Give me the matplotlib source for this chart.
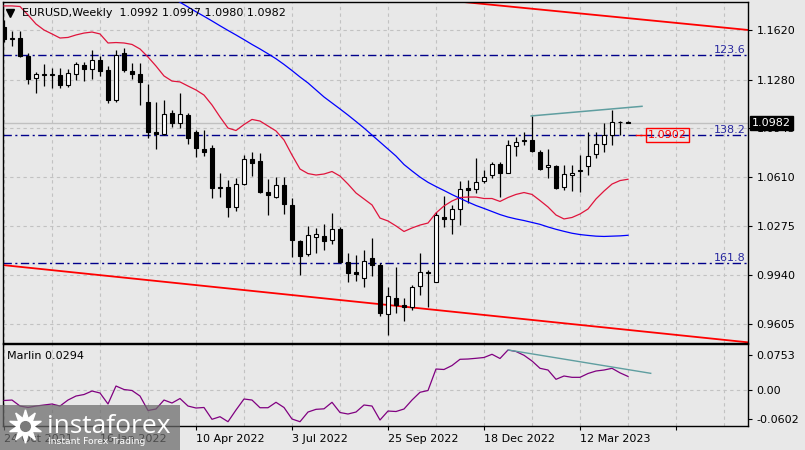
import numpy as np
import pandas as pd
import matplotlib
matplotlib.use("Agg")
import matplotlib.pyplot as plt
from matplotlib import transforms as mtransforms
from matplotlib.patches import Rectangle
from matplotlib.lines import Line2D

# ---------------- data ----------------
symbol = "EURUSD,Weekly"
header_values = ["1.0992", "1.0997", "1.0980", "1.0982"]
start_week = "2021-10-24"

opens = [1.1643, 1.1560, 1.1567, 1.1440, 1.1290, 1.1312, 1.1312, 1.1312, 1.1240, 1.1316,
         1.1380, 1.1351, 1.1414, 1.1346, 1.1140, 1.1460, 1.1339, 1.1318, 1.1124, 1.0918,
         1.0909, 1.1049, 1.0981, 1.1037, 1.0920, 1.0804, 1.0813, 1.0539, 1.0546, 1.0405,
         1.0562, 1.0734, 1.0722, 1.0512, 1.0473, 1.0557, 1.0421, 1.0174, 1.0082, 1.0203,
         1.0208, 1.0181, 1.0254, 1.0032, 0.9964, 0.9918, 1.0055, 1.0009, 0.9671, 0.9781,
         0.9735, 0.9719, 0.9868, 0.9955, 0.9895, 1.0337, 1.0323, 1.0392, 1.0537, 1.0530,
         1.0583, 1.0624, 1.0702, 1.0638, 1.0827, 1.0860, 1.0866, 1.0786, 1.0679, 1.0688,
         1.0542, 1.0624, 1.0657, 1.0688, 1.0768, 1.0837, 1.0900, 1.0990, 1.0992]
highs = [1.1690, 1.1616, 1.1613, 1.1464, 1.1334, 1.1385, 1.1357, 1.1362, 1.1350, 1.1403,
         1.1400, 1.1483, 1.1441, 1.1370, 1.1483, 1.1494, 1.1392, 1.1392, 1.1248, 1.1124,
         1.1140, 1.1072, 1.1186, 1.1049, 1.0935, 1.0935, 1.0830, 1.0637, 1.0592, 1.0603,
         1.0763, 1.0786, 1.0775, 1.0599, 1.0610, 1.0614, 1.0466, 1.0181, 1.0279, 1.0261,
         1.0290, 1.0363, 1.0270, 1.0089, 1.0078, 1.0112, 1.0197, 1.0021, 0.9861, 0.9996,
         0.9781, 0.9872, 1.0094, 0.9975, 1.0375, 1.0484, 1.0421, 1.0587, 1.0592, 1.0741,
         1.0660, 1.0718, 1.0718, 1.0866, 1.0889, 1.0923, 1.1029, 1.0798, 1.0802, 1.0695,
         1.0695, 1.0695, 1.0763, 1.0923, 1.0923, 1.0981, 1.1072, 1.0998, 1.0997]
lows = [1.1535, 1.1513, 1.1432, 1.1250, 1.1185, 1.1236, 1.1225, 1.1220, 1.1226, 1.1275,
        1.1270, 1.1284, 1.1303, 1.1118, 1.1125, 1.1330, 1.1282, 1.1106, 1.0882, 1.0804,
        1.0900, 1.0957, 1.0946, 1.0839, 1.0752, 1.0756, 1.0466, 1.0478, 1.0340, 1.0382,
        1.0557, 1.0620, 1.0501, 1.0352, 1.0466, 1.0359, 1.0066, 0.9941, 1.0071, 1.0089,
        1.0112, 1.0153, 1.0022, 0.9895, 0.9902, 0.9861, 0.9934, 0.9660, 0.9530, 0.9682,
        0.9628, 0.9701, 0.9804, 0.9724, 0.9895, 1.0268, 1.0222, 1.0283, 1.0432, 1.0501,
        1.0569, 1.0604, 1.0478, 1.0638, 1.0756, 1.0832, 1.0786, 1.0660, 1.0608, 1.0529,
        1.0523, 1.0516, 1.0512, 1.0626, 1.0741, 1.0786, 1.0832, 1.0900, 1.0980]
closes = [1.1555, 1.1567, 1.1440, 1.1284, 1.1316, 1.1320, 1.1320, 1.1240, 1.1323, 1.1385,
          1.1355, 1.1414, 1.1341, 1.1140, 1.1449, 1.1346, 1.1318, 1.1266, 1.0923, 1.0910,
          1.1046, 1.0981, 1.1044, 1.0878, 1.0809, 1.0786, 1.0539, 1.0546, 1.0409, 1.0562,
          1.0734, 1.0711, 1.0512, 1.0489, 1.0557, 1.0425, 1.0181, 1.0073, 1.0215, 1.0222,
          1.0176, 1.0254, 1.0032, 0.9957, 0.9950, 1.0039, 1.0009, 0.9682, 0.9799, 0.9735,
          0.9719, 0.9857, 0.9959, 0.9960, 1.0353, 1.0323, 1.0392, 1.0528, 1.0523, 1.0580,
          1.0610, 1.0702, 1.0642, 1.0832, 1.0850, 1.0866, 1.0791, 1.0667, 1.0693, 1.0535,
          1.0631, 1.0637, 1.0662, 1.0758, 1.0838, 1.0900, 1.0987, 1.0992, 1.0982]

ma_red = [1.1785, 1.1785, 1.1781, 1.1723, 1.1661, 1.1620, 1.1593, 1.1565, 1.1569, 1.1586,
          1.1599, 1.1606, 1.1593, 1.1531, 1.1534, 1.1531, 1.1521, 1.1490, 1.1435, 1.1373,
          1.1305, 1.1270, 1.1264, 1.1236, 1.1209, 1.1174, 1.1106, 1.1024, 1.0948, 1.0931,
          1.0972, 1.1007, 1.0996, 1.0962, 1.0928, 1.0866, 1.0763, 1.0667, 1.0636, 1.0626,
          1.0633, 1.0650, 1.0619, 1.0564, 1.0503, 1.0462, 1.0421, 1.0331, 1.0311, 1.0277,
          1.0239, 1.0263, 1.0283, 1.0297, 1.0366, 1.0414, 1.0448, 1.0472, 1.0475, 1.0475,
          1.0465, 1.0465, 1.0445, 1.0472, 1.0493, 1.0506, 1.0493, 1.0451, 1.0407, 1.0352,
          1.0325, 1.0335, 1.0359, 1.0393, 1.0462, 1.0516, 1.0564, 1.0588, 1.0597]

ma_blue = [np.nan] * 20 + [
    1.1880, 1.1846, 1.1810, 1.1778, 1.1745, 1.1714, 1.1682, 1.1649, 1.1617, 1.1586,
    1.1554, 1.1521, 1.1490, 1.1457, 1.1423, 1.1384, 1.1342, 1.1298, 1.1257, 1.1209,
    1.1161, 1.1120, 1.1079, 1.1037, 1.0993, 1.0948, 1.0900, 1.0852, 1.0804, 1.0756,
    1.0698, 1.0654, 1.0612, 1.0576, 1.0547, 1.0520, 1.0492, 1.0466, 1.0441, 1.0417,
    1.0397, 1.0376, 1.0355, 1.0338, 1.0325, 1.0314, 1.0301, 1.0288, 1.0270, 1.0254,
    1.0240, 1.0227, 1.0218, 1.0212, 1.0207, 1.0205, 1.0207, 1.0209, 1.0213]

marlin = [-0.0216, -0.0206, -0.0333, -0.0364, -0.0333, -0.0311, -0.0290, -0.0333, -0.0206, -0.0121,
          -0.0089, -0.0015, -0.0057, -0.0290, 0.0091, 0.0017, -0.0004, -0.0121, -0.0428, -0.0396,
          -0.0206, -0.0269, -0.0174, -0.0333, -0.0375, -0.0364, -0.0614, -0.0559, -0.0665, -0.0417,
          -0.0184, -0.0206, -0.0369, -0.0369, -0.0254, -0.0364, -0.0608, -0.0665, -0.0460, -0.0403,
          -0.0392, -0.0254, -0.0470, -0.0502, -0.0460, -0.0311, -0.0333, -0.0629, -0.0439, -0.0449,
          -0.0396, -0.0206, -0.0042, -0.0004, 0.0451, 0.0441, 0.0525, 0.0657, 0.0663, 0.0678,
          0.0695, 0.0763, 0.0674, 0.0854, 0.0822, 0.0742, 0.0621, 0.0466, 0.0430, 0.0233,
          0.0303, 0.0275, 0.0275, 0.0356, 0.0409, 0.0430, 0.0466, 0.0370, 0.0294]
marlin_name = "Marlin"

fib_levels = [1.1447, 1.0903, 1.0021]
fib_labels = ["123.6", "138.2", "161.8"]

channel_upper_idx = [50.0, 93.04]
channel_upper_px = [1.1852, 1.1620]
channel_lower_idx = [-0.16, 93.04]
channel_lower_px = [1.0009, 0.9479]
teal_idx = [65.9, 79.75]
teal_px = [1.1031, 1.1097]
marlin_teal_idx = [63.04, 80.84]
marlin_teal_val = [0.0854, 0.0360]

price_ticks = [1.1620, 1.1280, 1.0945, 1.0610, 1.0275, 0.9940, 0.9605]
marlin_ticks = [0.0753, 0.00, -0.0602]
marlin_tick_labels = ["0.0753", "0.00", "-0.0602"]
current_price = 1.0982
marked_price = 1.0902
marked_idx = [79.0, 80.25]

# ---------------- figure ----------------
W, H = 805, 450
BG = "#E8E8E8"
plt.rcParams["font.family"] = ["DejaVu Sans"]
fig = plt.figure(figsize=(W / 100, H / 100), dpi=100, facecolor=BG)


def rect(x0, y0, x1, y1):
    return [x0 / W, 1 - y1 / H, (x1 - x0) / W, (y1 - y0) / H]


ax = fig.add_axes(rect(3, 2, 748, 343))
ax2 = fig.add_axes(rect(3, 344, 748, 426), sharex=ax)

n = len(closes)
idx = np.arange(n)
dates = pd.date_range(start_week, periods=n, freq="7D")
o, h, l, c = (np.array(v) for v in (opens, highs, lows, closes))

grid_kw = dict(color="#C2C2C2", linestyle=(0, (3, 3)), linewidth=0.8)

for a in (ax, ax2):
    a.set_facecolor(BG)
    for s in a.spines.values():
        s.set_color("black")
        s.set_linewidth(1)
    a.yaxis.tick_right()
    a.tick_params(axis="y", direction="out", length=3, width=0.8, pad=3,
                  labelsize=8, colors="black")

ax.set_xlim(-0.125, 93.0)
ax.set_ylim(0.94747, 1.18119)
ax2.set_ylim(-0.0756, 0.0981)

# x ticks: minor every 6 bars (grid), major every 12 bars (labels)
major = np.arange(0, 93, 12)
minor = np.arange(0, 93, 6)
ax2.set_xticks(major)
ax2.set_xticks(minor, minor=True)
labels = []
for m in major:
    if m < n:
        d = dates[m]
        labels.append(f"{d.day} {d.strftime('%b %Y')}")
    else:
        labels.append("")
ax2.set_xticklabels(labels)
for lbl in ax2.get_xticklabels():
    lbl.set_ha("left")
ax2.tick_params(axis="x", which="major", length=3, width=0.8, pad=3, labelsize=8)
ax2.tick_params(axis="x", which="minor", length=0)
ax.tick_params(axis="x", which="both", length=0, labelbottom=False)

ax.set_yticks(price_ticks)
ax.set_yticklabels([f"{p:.4f}" for p in price_ticks])
ax2.set_yticks(marlin_ticks)
ax2.set_yticklabels(marlin_tick_labels)

ax.grid(axis="y", which="major", **grid_kw)
ax.grid(axis="x", which="both", **grid_kw)
ax2.grid(axis="x", which="both", **grid_kw)
ax2.axhline(0, zorder=1, **grid_kw)
ax.set_axisbelow(True)
ax2.set_axisbelow(True)

# levels
ax.axhline(current_price, color="#C0C0C0", lw=1, zorder=1)
for lev, lab in zip(fib_levels, fib_labels):
    ax.axhline(lev, color="#00008B", lw=1, ls=(0, (6, 2.5, 1.5, 2.5)), zorder=1.5)
    ax.text(0.997, lev, lab, transform=mtransforms.blended_transform_factory(ax.transAxes, ax.transData),
            ha="right", va="bottom", fontsize=8, color="#2828A0", zorder=2)

# channel and trend lines
ax.plot(channel_upper_idx, channel_upper_px, color="#FF0000", lw=1.3, zorder=2)
ax.plot(channel_lower_idx, channel_lower_px, color="#FF0000", lw=1.3, zorder=2)

# candles
up = c >= o
ax.vlines(idx, l, h, color="black", lw=0.9, zorder=3)
bot = np.minimum(o, c)
hgt = np.abs(c - o)
ax.bar(idx[up], hgt[up], bottom=bot[up], width=0.62, facecolor="white",
       edgecolor="black", linewidth=0.8, zorder=4)
ax.bar(idx[~up], hgt[~up], bottom=bot[~up], width=0.62, facecolor="black",
       edgecolor="black", linewidth=0.8, zorder=4)

# moving averages
ax.plot(idx, ma_red, color="#E0143C", lw=0.9, zorder=5)
ax.plot(idx, ma_blue, color="#0000FF", lw=0.9, zorder=5)
ax.plot(teal_idx, teal_px, color="#5F9EA0", lw=1.1, zorder=5)

# marked price label
ax.plot(marked_idx, [marked_price] * 2, color="#FF0000", lw=1, zorder=5)
ax.text(marked_idx[1] + 0.27, marked_price, f"{marked_price:.4f}", color="#FF0000",
        fontsize=8, ha="left", va="center", zorder=6,
        bbox=dict(boxstyle="square,pad=0.2", fc="none", ec="#FF0000", lw=1))

# current price box on axis
trans_bt = mtransforms.blended_transform_factory(ax.transAxes, ax.transData)
trans_bt = mtransforms.offset_copy(trans_bt, fig=fig, x=4, y=0, units="dots")
ax.text(1.0, current_price, f"{current_price:.4f}", transform=trans_bt, color="white",
        fontsize=8, ha="left", va="center", zorder=10, clip_on=False,
        bbox=dict(boxstyle="square,pad=0.18", fc="black", ec="black"))

# header
ax.plot([0.0093], [1 - 10.5 / 341], marker="v", ms=5.5, color="black",
        transform=ax.transAxes, clip_on=False, zorder=10)
ax.text(19 / 745, 1 - 10.5 / 341, f"{symbol}  " + " ".join(header_values),
        transform=ax.transAxes, fontsize=8, ha="left", va="center", zorder=10)

# indicator
ax2.plot(idx, marlin, color="#800080", lw=0.9, zorder=3)
ax2.plot(marlin_teal_idx, marlin_teal_val, color="#5F9EA0", lw=1.0, zorder=3)
ax2.text(4 / 745, 1 - 12 / 82, f"{marlin_name} {marlin[-1]:.4f}", transform=ax2.transAxes,
         fontsize=8, ha="left", va="center", zorder=10)

# watermark
fig.add_artist(Rectangle((0, 0), 180 / W, 45 / H, transform=fig.transFigure,
                         facecolor="#6A6A6A", alpha=0.72, edgecolor="none", zorder=20))
fig.add_artist(Line2D([25 / W], [1 - 426 / H], marker=(10, 1, 0), markersize=24,
                      color="white", transform=fig.transFigure, zorder=21))
fig.add_artist(Line2D([25 / W], [1 - 426 / H], marker="o", markersize=7,
                      color="#7A7A7A", transform=fig.transFigure, zorder=22))
fig.text(47 / W, 1 - 433 / H, "instaforex", color="white", fontsize=19,
         family=["Open Sans", "DejaVu Sans"], ha="left", va="baseline", zorder=21)
fig.text(48 / W, 1 - 441 / H, "Instant Forex Trading", color="white", fontsize=6.7,
         ha="left", va="center", zorder=21)

fig.savefig("out.png", dpi=100, facecolor=BG)
